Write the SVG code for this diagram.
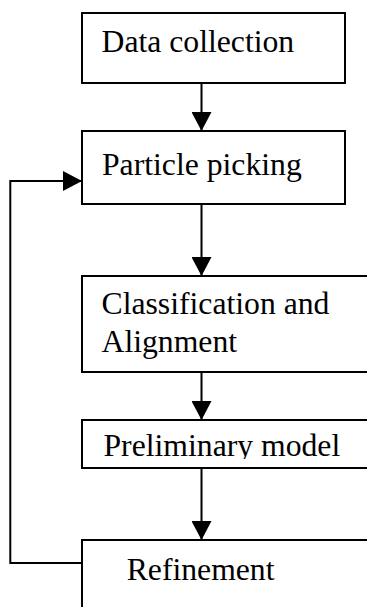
<svg xmlns="http://www.w3.org/2000/svg" width="367" height="607" viewBox="0 0 367 607">
<style>
.box{fill:#fff;stroke:#000;stroke-width:2}
.lbl{font-family:'Liberation Serif','Times New Roman',serif;font-size:31.7px;fill:#000}
.con{fill:none;stroke:#000;stroke-width:2}
</style>
<defs>
<marker id="ah" markerUnits="userSpaceOnUse" markerWidth="20" markerHeight="20" refX="19" refY="10" orient="auto">
<path d="M0,0 L19,10 L0,20 z" fill="#000"/>
</marker>
<clipPath id="pclip"><rect x="82" y="420" width="290" height="39"/></clipPath>
</defs>
<g id="connectors">
<line class="con" x1="201.5" y1="83" x2="201.5" y2="131" marker-end="url(#ah)"/>
<line class="con" x1="201.5" y1="204" x2="201.5" y2="276" marker-end="url(#ah)"/>
<line class="con" x1="201.5" y1="372" x2="201.5" y2="420" marker-end="url(#ah)"/>
<line class="con" x1="201.5" y1="468" x2="201.5" y2="540" marker-end="url(#ah)"/>
<polyline class="con" points="82,563 10.3,563 10.3,181 82,181" marker-end="url(#ah)"/>
</g>
<g id="data-collection">
<rect class="box" x="82" y="13" width="263" height="70"/>
<text class="lbl" x="101.5" y="51.7">Data collection</text>
</g>
<g id="particle-picking">
<rect class="box" x="82" y="131" width="263" height="73"/>
<text class="lbl" x="102" y="175">Particle picking</text>
</g>
<g id="classification">
<rect class="box" x="82" y="276" width="300" height="96"/>
<text class="lbl" x="101.5" y="314">Classification and</text>
<text class="lbl" x="101.5" y="351.7">Alignment</text>
</g>
<g id="preliminary-model">
<rect class="box" x="82" y="420" width="300" height="48"/>
<text class="lbl" x="103.5" y="456" clip-path="url(#pclip)">Preliminary model</text>
</g>
<g id="refinement">
<rect class="box" x="82" y="540" width="300" height="100"/>
<text class="lbl" x="126.7" y="580">Refinement</text>
</g>
</svg>
